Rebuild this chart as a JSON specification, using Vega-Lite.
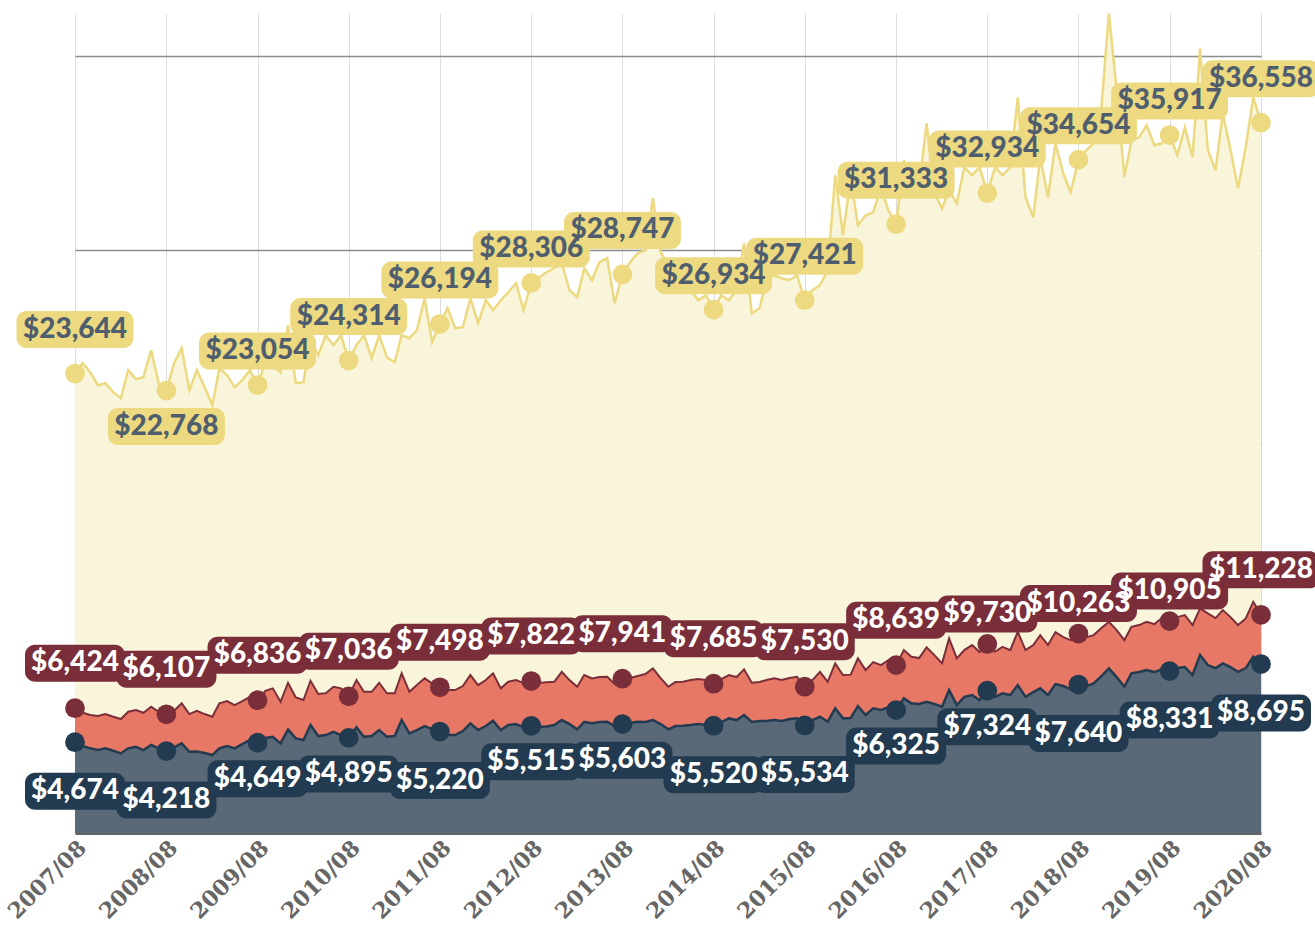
{
  "$schema": "https://vega.github.io/schema/vega-lite/v6.json",
  "width": 1186,
  "height": 820,
  "autosize": {"type": "none"},
  "padding": {"left": 75, "top": 13, "right": 54, "bottom": 97},
  "background": "white",
  "config": {"view": {"stroke": null}},
  "data": {
    "format": {"parse": {"date": "date"}},
    "values": [
      {"date":"2007-08-01","high":23644,"mid":6424,"low":4674},
      {"date":"2007-09-01","high":24177,"mid":6188,"low":4475},
      {"date":"2007-10-01","high":23714,"mid":6070,"low":4357},
      {"date":"2007-11-01","high":23045,"mid":6018,"low":4270},
      {"date":"2007-12-01","high":23148,"mid":6121,"low":4357},
      {"date":"2008-01-01","high":22685,"mid":5982,"low":4230},
      {"date":"2008-02-01","high":22376,"mid":5864,"low":4100},
      {"date":"2008-03-01","high":23817,"mid":6240,"low":4357},
      {"date":"2008-04-01","high":23354,"mid":6327,"low":4439},
      {"date":"2008-05-01","high":23457,"mid":6188,"low":4270},
      {"date":"2008-06-01","high":24846,"mid":6497,"low":4527},
      {"date":"2008-07-01","high":23148,"mid":6240,"low":4357},
      {"date":"2008-08-01","high":22768,"mid":6107,"low":4218},
      {"date":"2008-09-01","high":24177,"mid":6291,"low":4408},
      {"date":"2008-10-01","high":24948,"mid":6672,"low":4614},
      {"date":"2008-11-01","high":22788,"mid":6121,"low":4182},
      {"date":"2008-12-01","high":23817,"mid":6291,"low":4190},
      {"date":"2009-01-01","high":22942,"mid":6121,"low":4115},
      {"date":"2009-02-01","high":22016,"mid":5982,"low":4012},
      {"date":"2009-03-01","high":23920,"mid":6672,"low":4357},
      {"date":"2009-04-01","high":23560,"mid":6790,"low":4475},
      {"date":"2009-05-01","high":22942,"mid":6584,"low":4357},
      {"date":"2009-06-01","high":23302,"mid":6790,"low":4578},
      {"date":"2009-07-01","high":23817,"mid":7011,"low":4784},
      {"date":"2009-08-01","high":23054,"mid":6836,"low":4649},
      {"date":"2009-09-01","high":24228,"mid":7320,"low":4887},
      {"date":"2009-10-01","high":24074,"mid":7443,"low":4954},
      {"date":"2009-11-01","high":23714,"mid":6754,"low":4614},
      {"date":"2009-12-01","high":26132,"mid":7731,"low":5334},
      {"date":"2010-01-01","high":23148,"mid":6981,"low":4871},
      {"date":"2010-02-01","high":23199,"mid":6842,"low":4784},
      {"date":"2010-03-01","high":25360,"mid":7834,"low":5556},
      {"date":"2010-04-01","high":24588,"mid":7150,"low":4990},
      {"date":"2010-05-01","high":25617,"mid":7186,"low":5041},
      {"date":"2010-06-01","high":25103,"mid":7526,"low":5211},
      {"date":"2010-07-01","high":25617,"mid":7443,"low":5041},
      {"date":"2010-08-01","high":24314,"mid":7036,"low":4895},
      {"date":"2010-09-01","high":25103,"mid":7870,"low":5437},
      {"date":"2010-10-01","high":25617,"mid":7268,"low":4954},
      {"date":"2010-11-01","high":24434,"mid":7268,"low":4990},
      {"date":"2010-12-01","high":25617,"mid":7731,"low":5298},
      {"date":"2011-01-01","high":24485,"mid":7186,"low":4954},
      {"date":"2011-02-01","high":24228,"mid":7186,"low":4990},
      {"date":"2011-03-01","high":25617,"mid":8215,"low":5813},
      {"date":"2011-04-01","high":25463,"mid":7268,"low":5129},
      {"date":"2011-05-01","high":25874,"mid":7613,"low":5298},
      {"date":"2011-06-01","high":27520,"mid":7958,"low":5504},
      {"date":"2011-07-01","high":25257,"mid":7700,"low":5350},
      {"date":"2011-08-01","high":26194,"mid":7498,"low":5220},
      {"date":"2011-09-01","high":27006,"mid":7356,"low":5041},
      {"date":"2011-10-01","high":25977,"mid":7356,"low":5041},
      {"date":"2011-11-01","high":26029,"mid":7562,"low":5247},
      {"date":"2011-12-01","high":27520,"mid":8128,"low":5643},
      {"date":"2012-01-01","high":26234,"mid":7613,"low":5298},
      {"date":"2012-02-01","high":27418,"mid":7870,"low":5504},
      {"date":"2012-03-01","high":26903,"mid":8215,"low":5777},
      {"date":"2012-04-01","high":27418,"mid":7443,"low":5298},
      {"date":"2012-05-01","high":27829,"mid":7783,"low":5556},
      {"date":"2012-06-01","high":28292,"mid":7870,"low":5607},
      {"date":"2012-07-01","high":26903,"mid":7716,"low":5453},
      {"date":"2012-08-01","high":28306,"mid":7822,"low":5515},
      {"date":"2012-09-01","high":28601,"mid":7716,"low":5453},
      {"date":"2012-10-01","high":28858,"mid":7760,"low":5480},
      {"date":"2012-11-01","high":29064,"mid":7783,"low":5556},
      {"date":"2012-12-01","high":29321,"mid":8297,"low":5813},
      {"date":"2013-01-01","high":27932,"mid":7870,"low":5607},
      {"date":"2013-02-01","high":27572,"mid":7526,"low":5334},
      {"date":"2013-03-01","high":29064,"mid":8128,"low":5725},
      {"date":"2013-04-01","high":28446,"mid":7958,"low":5643},
      {"date":"2013-05-01","high":29372,"mid":8025,"low":5710},
      {"date":"2013-06-01","high":29578,"mid":8040,"low":5725},
      {"date":"2013-07-01","high":27263,"mid":7665,"low":5504},
      {"date":"2013-08-01","high":28747,"mid":7941,"low":5603},
      {"date":"2013-09-01","high":29372,"mid":7973,"low":5658},
      {"date":"2013-10-01","high":29835,"mid":8076,"low":5725},
      {"date":"2013-11-01","high":29990,"mid":8179,"low":5710},
      {"date":"2013-12-01","high":32664,"mid":8472,"low":5813},
      {"date":"2014-01-01","high":29887,"mid":7973,"low":5607},
      {"date":"2014-02-01","high":29218,"mid":7526,"low":5334},
      {"date":"2014-03-01","high":28446,"mid":7767,"low":5504},
      {"date":"2014-04-01","high":28189,"mid":7783,"low":5520},
      {"date":"2014-05-01","high":27932,"mid":7870,"low":5556},
      {"date":"2014-06-01","high":27418,"mid":7922,"low":5607},
      {"date":"2014-07-01","high":27675,"mid":7870,"low":5556},
      {"date":"2014-08-01","high":26934,"mid":7685,"low":5520},
      {"date":"2014-09-01","high":27675,"mid":7922,"low":5710},
      {"date":"2014-10-01","high":27418,"mid":8128,"low":5900},
      {"date":"2014-11-01","high":27932,"mid":8025,"low":5813},
      {"date":"2014-12-01","high":30350,"mid":8421,"low":6070},
      {"date":"2015-01-01","high":26749,"mid":7731,"low":5710},
      {"date":"2015-02-01","high":27006,"mid":7767,"low":5761},
      {"date":"2015-03-01","high":28446,"mid":7870,"low":5761},
      {"date":"2015-04-01","high":28704,"mid":7958,"low":5813},
      {"date":"2015-05-01","high":28549,"mid":7870,"low":5761},
      {"date":"2015-06-01","high":28446,"mid":7973,"low":5864},
      {"date":"2015-07-01","high":28704,"mid":8040,"low":5900},
      {"date":"2015-08-01","high":27421,"mid":7530,"low":5534},
      {"date":"2015-09-01","high":27932,"mid":7870,"low":5813},
      {"date":"2015-10-01","high":28189,"mid":8297,"low":5982},
      {"date":"2015-11-01","high":28961,"mid":7783,"low":5725},
      {"date":"2015-12-01","high":33848,"mid":8729,"low":6415},
      {"date":"2016-01-01","high":30761,"mid":8128,"low":5900},
      {"date":"2016-02-01","high":33693,"mid":8150,"low":5920},
      {"date":"2016-03-01","high":31276,"mid":8987,"low":6533},
      {"date":"2016-04-01","high":31790,"mid":8385,"low":6070},
      {"date":"2016-05-01","high":31944,"mid":8796,"low":6415},
      {"date":"2016-06-01","high":33179,"mid":8642,"low":6327},
      {"date":"2016-07-01","high":32047,"mid":8899,"low":6481},
      {"date":"2016-08-01","high":31333,"mid":8639,"low":6325},
      {"date":"2016-09-01","high":34619,"mid":9414,"low":6929},
      {"date":"2016-10-01","high":33076,"mid":9069,"low":6672},
      {"date":"2016-11-01","high":33230,"mid":9002,"low":6636},
      {"date":"2016-12-01","high":36522,"mid":9552,"low":6754},
      {"date":"2017-01-01","high":32922,"mid":9156,"low":6636},
      {"date":"2017-02-01","high":32150,"mid":8729,"low":6497},
      {"date":"2017-03-01","high":33076,"mid":10015,"low":7356},
      {"date":"2017-04-01","high":32407,"mid":8987,"low":6584},
      {"date":"2017-05-01","high":34259,"mid":9414,"low":7011},
      {"date":"2017-06-01","high":33848,"mid":9671,"low":7099},
      {"date":"2017-07-01","high":34259,"mid":9311,"low":6842},
      {"date":"2017-08-01","high":32934,"mid":9730,"low":7324},
      {"date":"2017-09-01","high":34259,"mid":9326,"low":7011},
      {"date":"2017-10-01","high":33848,"mid":9583,"low":7186},
      {"date":"2017-11-01","high":34259,"mid":9414,"low":7099},
      {"date":"2017-12-01","high":37860,"mid":10355,"low":7613},
      {"date":"2018-01-01","high":32716,"mid":9414,"low":7011},
      {"date":"2018-02-01","high":31687,"mid":9671,"low":7253},
      {"date":"2018-03-01","high":34773,"mid":10185,"low":7443},
      {"date":"2018-04-01","high":32716,"mid":9671,"low":7099},
      {"date":"2018-05-01","high":35494,"mid":10339,"low":7665},
      {"date":"2018-06-01","high":33950,"mid":10082,"low":7562},
      {"date":"2018-07-01","high":32973,"mid":9928,"low":7407},
      {"date":"2018-08-01","high":34654,"mid":10263,"low":7640},
      {"date":"2018-09-01","high":35134,"mid":10082,"low":7562},
      {"date":"2018-10-01","high":35494,"mid":10185,"low":7700},
      {"date":"2018-11-01","high":37345,"mid":10545,"low":8076},
      {"date":"2018-12-01","high":42181,"mid":10869,"low":8472},
      {"date":"2019-01-01","high":38220,"mid":10442,"low":8025},
      {"date":"2019-02-01","high":33745,"mid":9928,"low":7526},
      {"date":"2019-03-01","high":35648,"mid":10612,"low":8215},
      {"date":"2019-04-01","high":35802,"mid":10700,"low":8282},
      {"date":"2019-05-01","high":36420,"mid":10869,"low":8385},
      {"date":"2019-06-01","high":35391,"mid":10751,"low":8282},
      {"date":"2019-07-01","high":35494,"mid":11060,"low":8436},
      {"date":"2019-08-01","high":35917,"mid":10905,"low":8331},
      {"date":"2019-09-01","high":34876,"mid":11111,"low":8488},
      {"date":"2019-10-01","high":36317,"mid":11214,"low":8539},
      {"date":"2019-11-01","high":34773,"mid":10700,"low":8128},
      {"date":"2019-12-01","high":40380,"mid":11559,"low":9156},
      {"date":"2020-01-01","high":35134,"mid":11301,"low":8642},
      {"date":"2020-02-01","high":34105,"mid":11060,"low":8488},
      {"date":"2020-03-01","high":37037,"mid":11471,"low":8729},
      {"date":"2020-04-01","high":35134,"mid":11111,"low":8539},
      {"date":"2020-05-01","high":33179,"mid":10700,"low":8297},
      {"date":"2020-06-01","high":35288,"mid":11044,"low":8488},
      {"date":"2020-07-01","high":37860,"mid":11898,"low":9069},
      {"date":"2020-08-01","high":36558,"mid":11228,"low":8695}
    ]
  },
  "encoding": {
    "x": {
      "field": "date",
      "type": "temporal",
      "scale": {"type": "utc"},
      "axis": {
        "title": null,
        "values": [
          {"year":2007,"month":8,"date":1,"utc":true},{"year":2008,"month":8,"date":1,"utc":true},
          {"year":2009,"month":8,"date":1,"utc":true},{"year":2010,"month":8,"date":1,"utc":true},
          {"year":2011,"month":8,"date":1,"utc":true},{"year":2012,"month":8,"date":1,"utc":true},
          {"year":2013,"month":8,"date":1,"utc":true},{"year":2014,"month":8,"date":1,"utc":true},
          {"year":2015,"month":8,"date":1,"utc":true},{"year":2016,"month":8,"date":1,"utc":true},
          {"year":2017,"month":8,"date":1,"utc":true},{"year":2018,"month":8,"date":1,"utc":true},
          {"year":2019,"month":8,"date":1,"utc":true},{"year":2020,"month":8,"date":1,"utc":true}
        ],
        "format": "%Y/%m",
        "grid": true,
        "gridColor": "#dddddd",
        "gridWidth": 1,
        "ticks": false,
        "domain": true,
        "domainColor": "#666666",
        "domainWidth": 3,
        "labelAngle": -45,
        "labelAlign": "right",
        "labelBaseline": "top",
        "labelPadding": 4,
        "labelFont": "DejaVu Serif",
        "labelFontWeight": "bold",
        "labelFontSize": 22,
        "labelColor": "#666666",
        "labelOverlap": false,
        "labelFlush": false,
        "labelBound": false
      }
    }
  },
  "layer": [
    {
      "mark": {"type": "area", "color": "#f9f5da"},
      "encoding": {"y": {"field": "high", "type": "quantitative", "scale": {"domain": [0, 42200], "nice": false}, "axis": {"values": [10000, 20000, 30000, 40000], "grid": true, "gridColor": "#8c8c8c", "gridWidth": 1.5, "labels": false, "ticks": false, "domain": false, "title": null}}}
    },
    {
      "mark": {"type": "line", "color": "#ecd980", "strokeWidth": 2.5},
      "encoding": {"y": {"field": "high", "type": "quantitative", "scale": {"domain": [0, 42200], "nice": false}, "axis": {"values": [10000, 20000, 30000, 40000], "grid": true, "gridColor": "#8c8c8c", "gridWidth": 1.5, "labels": false, "ticks": false, "domain": false, "title": null}}}
    },
    {
      "mark": {"type": "area", "color": "#e87866"},
      "encoding": {"y": {"field": "mid", "type": "quantitative", "scale": {"domain": [0, 42200], "nice": false}, "axis": {"values": [10000, 20000, 30000, 40000], "grid": true, "gridColor": "#8c8c8c", "gridWidth": 1.5, "labels": false, "ticks": false, "domain": false, "title": null}}}
    },
    {
      "mark": {"type": "line", "color": "#7a2e3a", "strokeWidth": 2},
      "encoding": {"y": {"field": "mid", "type": "quantitative", "scale": {"domain": [0, 42200], "nice": false}, "axis": {"values": [10000, 20000, 30000, 40000], "grid": true, "gridColor": "#8c8c8c", "gridWidth": 1.5, "labels": false, "ticks": false, "domain": false, "title": null}}}
    },
    {
      "mark": {"type": "area", "color": "#5a6977"},
      "encoding": {"y": {"field": "low", "type": "quantitative", "scale": {"domain": [0, 42200], "nice": false}, "axis": {"values": [10000, 20000, 30000, 40000], "grid": true, "gridColor": "#8c8c8c", "gridWidth": 1.5, "labels": false, "ticks": false, "domain": false, "title": null}}}
    },
    {
      "mark": {"type": "line", "color": "#223b50", "strokeWidth": 2.5},
      "encoding": {"y": {"field": "low", "type": "quantitative", "scale": {"domain": [0, 42200], "nice": false}, "axis": {"values": [10000, 20000, 30000, 40000], "grid": true, "gridColor": "#8c8c8c", "gridWidth": 1.5, "labels": false, "ticks": false, "domain": false, "title": null}}}
    },
    {
      "transform": [{"filter": "utcmonth(datum.date) == 7"}],
      "layer": [
        {
          "mark": {"type": "circle", "size": 390, "opacity": 1, "color": "#ecd980"},
          "encoding": {"y": {"field": "high", "type": "quantitative", "scale": {"domain": [0, 42200], "nice": false}, "axis": {"values": [10000, 20000, 30000, 40000], "grid": true, "gridColor": "#8c8c8c", "gridWidth": 1.5, "labels": false, "ticks": false, "domain": false, "title": null}}}
        },
        {
          "mark": {"type": "circle", "size": 390, "opacity": 1, "color": "#7a2e3a"},
          "encoding": {"y": {"field": "mid", "type": "quantitative", "scale": {"domain": [0, 42200], "nice": false}, "axis": {"values": [10000, 20000, 30000, 40000], "grid": true, "gridColor": "#8c8c8c", "gridWidth": 1.5, "labels": false, "ticks": false, "domain": false, "title": null}}}
        },
        {
          "mark": {"type": "circle", "size": 390, "opacity": 1, "color": "#223b50"},
          "encoding": {"y": {"field": "low", "type": "quantitative", "scale": {"domain": [0, 42200], "nice": false}, "axis": {"values": [10000, 20000, 30000, 40000], "grid": true, "gridColor": "#8c8c8c", "gridWidth": 1.5, "labels": false, "ticks": false, "domain": false, "title": null}}}
        },
        {
          "mark": {"type": "rect", "width": 117, "height": 37, "cornerRadius": 10, "align": "center", "baseline": "middle", "yOffset": {"expr": "utcyear(datum.date) == 2008 ? 36 : (indexof([2009, 2012, 2014, 2018, 2019], utcyear(datum.date)) >= 0 ? -34 : -44)"}, "color": "#ecd980"},
          "encoding": {"y": {"field": "high", "type": "quantitative", "scale": {"domain": [0, 42200], "nice": false}, "axis": {"values": [10000, 20000, 30000, 40000], "grid": true, "gridColor": "#8c8c8c", "gridWidth": 1.5, "labels": false, "ticks": false, "domain": false, "title": null}}}
        },
        {
          "mark": {"type": "text", "font": "Lato", "fontWeight": 900, "fontSize": 28, "align": "center", "baseline": "middle", "yOffset": {"expr": "utcyear(datum.date) == 2008 ? 36 : (indexof([2009, 2012, 2014, 2018, 2019], utcyear(datum.date)) >= 0 ? -34 : -44)"}, "color": "#4f5e6e"},
          "encoding": {
            "y": {"field": "high", "type": "quantitative", "scale": {"domain": [0, 42200], "nice": false}, "axis": {"values": [10000, 20000, 30000, 40000], "grid": true, "gridColor": "#8c8c8c", "gridWidth": 1.5, "labels": false, "ticks": false, "domain": false, "title": null}},
            "text": {"field": "high", "type": "quantitative", "format": "$,.0f"}
          }
        },
        {
          "mark": {"type": "rect", "width": {"expr": "datum.mid >= 10000 ? 117 : 100"}, "height": 37, "cornerRadius": 10, "align": "center", "baseline": "middle", "yOffset": {"expr": "utcyear(datum.date) >= 2017 && utcyear(datum.date) <= 2019 ? -30 : -45"}, "color": "#7a2e3a"},
          "encoding": {"y": {"field": "mid", "type": "quantitative", "scale": {"domain": [0, 42200], "nice": false}, "axis": {"values": [10000, 20000, 30000, 40000], "grid": true, "gridColor": "#8c8c8c", "gridWidth": 1.5, "labels": false, "ticks": false, "domain": false, "title": null}}}
        },
        {
          "mark": {"type": "text", "font": "Lato", "fontWeight": 900, "fontSize": 28, "align": "center", "baseline": "middle", "yOffset": {"expr": "utcyear(datum.date) >= 2017 && utcyear(datum.date) <= 2019 ? -30 : -45"}, "color": "#ffffff"},
          "encoding": {
            "y": {"field": "mid", "type": "quantitative", "scale": {"domain": [0, 42200], "nice": false}, "axis": {"values": [10000, 20000, 30000, 40000], "grid": true, "gridColor": "#8c8c8c", "gridWidth": 1.5, "labels": false, "ticks": false, "domain": false, "title": null}},
            "text": {"field": "mid", "type": "quantitative", "format": "$,.0f"}
          }
        },
        {
          "mark": {"type": "rect", "width": 100, "height": 37, "cornerRadius": 10, "align": "center", "baseline": "middle", "yOffset": {"expr": "indexof([2009, 2010, 2012, 2013, 2016, 2017], utcyear(datum.date)) >= 0 ? 36 : 49"}, "color": "#223b50"},
          "encoding": {"y": {"field": "low", "type": "quantitative", "scale": {"domain": [0, 42200], "nice": false}, "axis": {"values": [10000, 20000, 30000, 40000], "grid": true, "gridColor": "#8c8c8c", "gridWidth": 1.5, "labels": false, "ticks": false, "domain": false, "title": null}}}
        },
        {
          "mark": {"type": "text", "font": "Lato", "fontWeight": 900, "fontSize": 28, "align": "center", "baseline": "middle", "yOffset": {"expr": "indexof([2009, 2010, 2012, 2013, 2016, 2017], utcyear(datum.date)) >= 0 ? 36 : 49"}, "color": "#ffffff"},
          "encoding": {
            "y": {"field": "low", "type": "quantitative", "scale": {"domain": [0, 42200], "nice": false}, "axis": {"values": [10000, 20000, 30000, 40000], "grid": true, "gridColor": "#8c8c8c", "gridWidth": 1.5, "labels": false, "ticks": false, "domain": false, "title": null}},
            "text": {"field": "low", "type": "quantitative", "format": "$,.0f"}
          }
        }
      ]
    }
  ]
}
